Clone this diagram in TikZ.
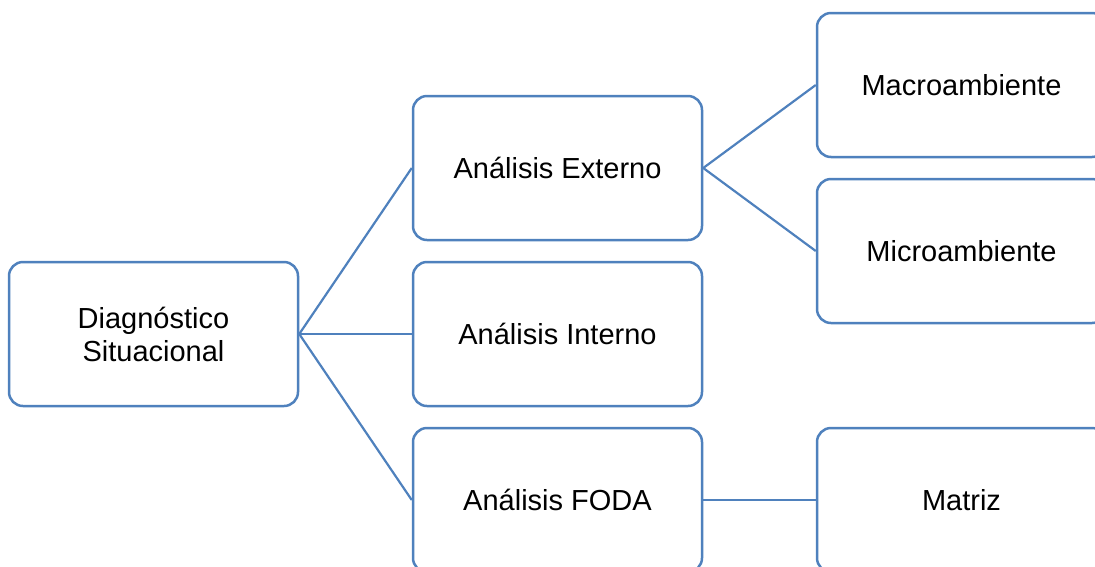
\documentclass[tikz,border=0pt]{standalone}
\usepackage{fontspec}
\setmainfont{Liberation Sans}
\definecolor{boxblue}{RGB}{79,129,189}
\begin{document}
\begin{tikzpicture}[x=1pt,y=-1pt,
  box/.style={draw=boxblue, line width=2.5pt, rounded corners=14pt, fill=white,
    minimum width=289pt, minimum height=144pt, inner sep=0pt, align=center,
    font=\fontsize{29}{33}\selectfont, text=black},
  link/.style={draw=boxblue, line width=2.2pt}]
\useasboundingbox (0,0) rectangle (1095,566);
\clip (0,0) rectangle (1095,566);
\node[box] (diag) at (153.5,334) {Diagnóstico\\Situacional};
\node[box] (ext) at (557.5,168) {Análisis Externo};
\node[box] (int) at (557.5,334) {Análisis Interno};
\node[box] (foda) at (557.5,500) {Análisis FODA};
\node[box] (macro) at (961.5,85) {Macroambiente};
\node[box] (micro) at (961.5,251) {Microambiente};
\node[box] (matriz) at (961.5,500) {Matriz};
\draw[link] (diag.east) -- (ext.west);
\draw[link] (diag.east) -- (int.west);
\draw[link] (diag.east) -- (foda.west);
\draw[link] (ext.east) -- (macro.west);
\draw[link] (ext.east) -- (micro.west);
\draw[link] (foda.east) -- (matriz.west);
\end{tikzpicture}
\end{document}
